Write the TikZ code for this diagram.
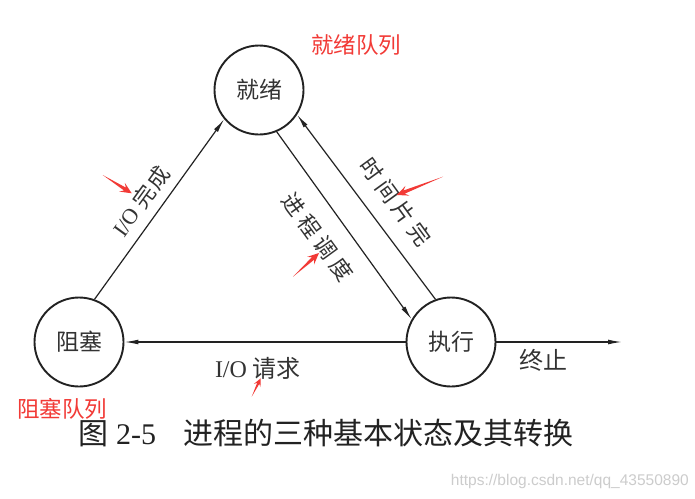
\documentclass[tikz,border=0pt]{standalone}
\usepackage{fontspec}
\setmainfont{Liberation Serif}
\newfontfamily\cjk{Noto Sans CJK SC}
\newfontfamily\wmfont{Liberation Sans}
\usetikzlibrary{arrows.meta,calc}

\definecolor{ink}{HTML}{222222}
\definecolor{txt}{HTML}{333333}
\definecolor{note}{HTML}{F23A36}

% small gap between spaced-out characters
\newcommand\gap{\hspace{5pt}}

% red annotation pointer: tail #2, tip #3, optional head size #1
\newcommand\pointer[3][1]{%
  \fill[note] (#2)
    -- ($(#3)!#1*8pt!(#2)!#1*1.7pt!90:(#2)$)
    -- ($(#3)!#1*11.5pt!(#2)!#1*5.2pt!90:(#2)$)
    -- (#3)
    -- ($(#3)!#1*11.5pt!(#2)!#1*5.2pt!-90:(#2)$)
    -- ($(#3)!#1*8pt!(#2)!#1*1.7pt!-90:(#2)$)
    -- cycle;}

\begin{document}
\begin{tikzpicture}[x=1pt,y=-1pt,
  state/.style={circle,draw=ink,line width=1.9pt,minimum size=89pt,inner sep=0pt,
    text=txt,font=\cjk\fontsize{23}{23}\selectfont},
  flow/.style={draw=ink,line width=1.2pt,-{Latex[length=14pt,width=4.8pt]}},
  lbl/.style={text=txt,inner sep=0pt,font=\fontsize{22}{22}\selectfont},
  redlbl/.style={text=note,inner sep=0pt,font=\cjk\fontsize{22.5}{23}\selectfont}]
\useasboundingbox[fill=white] (0,0) rectangle (695,498);

% the three process states
\node[state] (ready)   at (259,90)  {就绪};
\node[state] (blocked) at (79,342)  {阻塞};
\node[state] (running) at (451,342) {执行};
\coordinate (exit) at (622,342);

% transitions
\draw[flow] (blocked.70) -- (ready.220);
\draw[flow] (ready.-67) -- (running.150);
\draw[flow] (running.110) -- (ready.-33);
\draw[flow] (running.180) -- (blocked.0);
\draw[flow] (running.0) -- (exit);

% transition labels
\node[lbl,rotate=54]  (ioDone) at (141,201) {I/O {\cjk 完\hspace{2pt}成}};
\node[lbl,rotate=-54] (sched)  at (318,237) {\cjk 进\gap 程\gap 调\gap 度};
\node[lbl,rotate=-54] (slice)  at (396,202) {\cjk 时\gap 间\gap 片\gap 完};
\node[lbl,font=\fontsize{24}{24}\selectfont] (ioReq) at (258,368) {I/O {\cjk 请求}};
\node[lbl,font=\fontsize{24}{24}\selectfont] (endLbl) at (543,360) {\cjk 终止};

% queue notes
\node[redlbl] (readyQ)   at (356,45)  {就绪队列};
\node[redlbl] (blockedQ) at (62,409)  {阻塞队列};

% pointers to the labels
\coordinate (p1a) at (102.7,175);  \coordinate (p1b) at (131.7,193.3);
\coordinate (p2a) at (443,176.7);  \coordinate (p2b) at (396.7,195);
\coordinate (p3a) at (293,276.7);  \coordinate (p3b) at (319,253);
\coordinate (p4a) at (251.7,396.7); \coordinate (p4b) at (260.7,378.3);
\pointer{p1a}{p1b}
\pointer{p2a}{p2b}
\pointer{p3a}{p3b}
\pointer[0.7]{p4a}{p4b}

% caption
\node[anchor=west,inner sep=0pt,text=ink,font=\fontsize{30}{30}\selectfont] (caption)
  at (78,433) {{\cjk 图}\hspace{8pt}2-5\hspace{27pt}{\cjk 进程的三种基本状态及其转换}};

% source address
\node[anchor=east,inner sep=0pt,text=gray!40,font=\wmfont\fontsize{15.5}{16}\selectfont]
  (source) at (689,481) {https://blog.csdn.net/qq\_43550890};
\end{tikzpicture}
\end{document}
